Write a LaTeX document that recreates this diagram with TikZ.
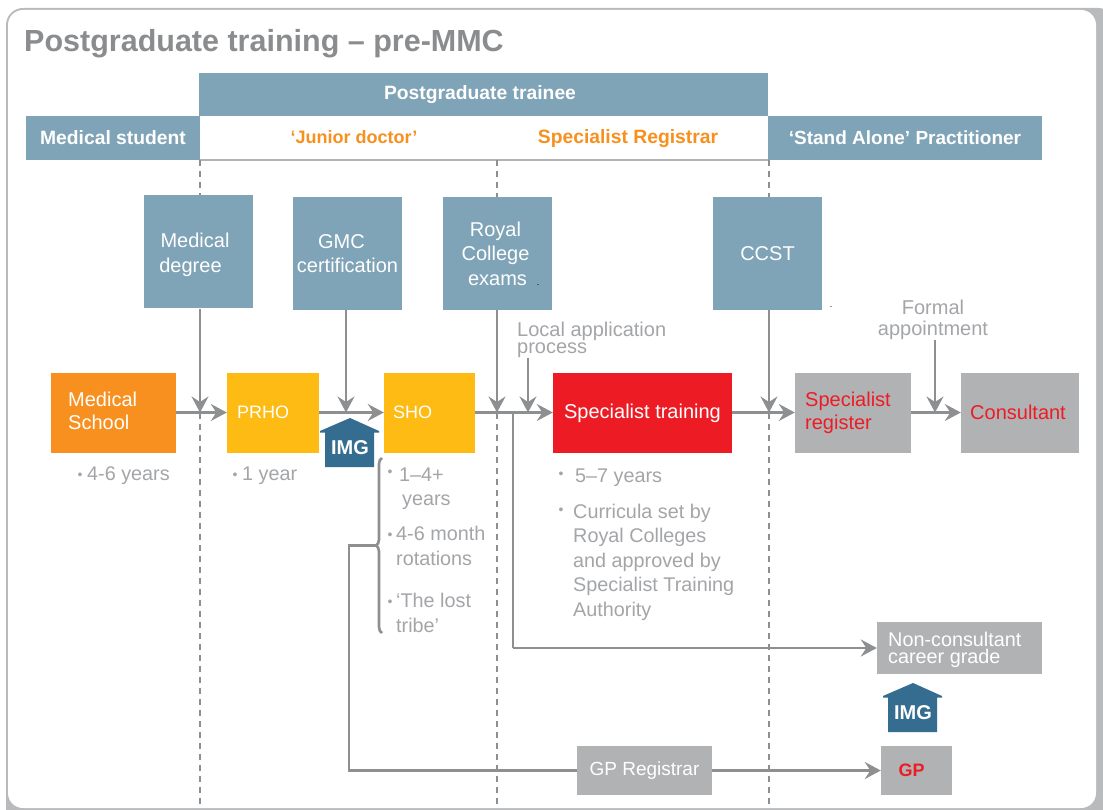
\documentclass[tikz,border=0pt]{standalone}
\usepackage{fontspec}
\setmainfont{Liberation Sans}
\usetikzlibrary{arrows.meta,positioning,decorations.pathreplacing}
\definecolor{steel}{HTML}{7FA3B7}
\definecolor{house}{HTML}{356D91}
\definecolor{linegrey}{HTML}{8E8F91}
\definecolor{notegrey}{HTML}{A3A5A8}
\definecolor{boxgrey}{HTML}{B1B2B4}
\definecolor{titlegrey}{HTML}{8A8C8E}
\definecolor{amber}{HTML}{FDBB13}
\definecolor{tangerine}{HTML}{F7901E}
\definecolor{alarm}{HTML}{ED1C24}
\tikzset{
    band/.style={fill=steel,text=white,font=\fontsize{19.3}{22}\selectfont\bfseries,inner sep=0pt},
    milestone/.style={fill=steel,text=white,inner sep=0pt,align=center,minimum width=109pt,minimum height=113pt,font=\fontsize{20}{24.5}\selectfont},
    stage/.style={inner sep=0pt,minimum height=80pt},
    label/.style={text=white,inner sep=0pt,align=left,anchor=west,font=\fontsize{20}{22.5}\selectfont},
    redlabel/.style={label,text=alarm},
    note/.style={text=notegrey,inner sep=0pt,align=left,anchor=west,font=\fontsize{19.8}{24.5}\selectfont},
    tick/.style={text=notegrey,inner sep=0pt,yshift=-3pt,font=\fontsize{14}{14}\selectfont},
    flow/.style={draw=linegrey,line width=2.2pt,-{Stealth[length=16pt,width=17pt,inset=5.5pt]}},
    wire/.style={draw=linegrey,line width=2.2pt},
    phase/.style={draw=linegrey,line width=1.8pt,dash pattern=on 6pt off 5pt}
}
\begin{document}
\begin{tikzpicture}[x=1pt,y=-1pt]
    \useasboundingbox (0,0) rectangle (1103,810);
    \fill[boxgrey!90] (6,8) [rounded corners=17pt] rectangle (1115,825);
    \fill[white] (8,10) [rounded corners=15pt] rectangle (1096,808);

    \node [anchor=west,inner sep=0pt,text=titlegrey,font=\fontsize{30.5}{34}\selectfont\bfseries] (title) at (24,44) {Postgraduate training -- pre-MMC};

    \node [band,minimum width=569pt,minimum height=43pt] (trainee) at (483.5,94.5) {\hspace*{-7pt}Postgraduate trainee};
    \node [band,minimum width=174pt,minimum height=44pt] (student) at (113,138) {Medical student};
    \node [band,minimum width=274pt,minimum height=44pt,font=\fontsize{19}{22}\selectfont\bfseries] (alone) at (905,138) {‘Stand Alone’ Practitioner};
    \node [inner sep=0pt,text=tangerine,font=\fontsize{18}{22}\selectfont\bfseries] (junior) at (354,137) {‘Junior doctor’};
    \node [inner sep=0pt,text=tangerine,font=\fontsize{19.3}{22}\selectfont\bfseries] (registrar) at (628,139) {Specialist Registrar};
    \draw [wire,draw=boxgrey] (student.south east) -- (alone.south west);

    \node [milestone] (degree) at (198,252) {\rule{0pt}{20pt}\hspace*{-6pt}Medical\\\hspace*{-15pt}degree};
    \node [milestone] (gmc) at (347.5,253.5) {\hspace*{-12pt}GMC\\certification};
    \node [milestone] (exams) at (497.5,253.5) {\hspace*{-4pt}Royal\\\hspace*{-4pt}College\\exams};
    \node [milestone] (ccst) at (767.5,253.5) {CCST};
    \node [inner sep=0pt,font=\fontsize{9}{9}\selectfont] (examsdot) at (538,285) {.};
    \node [inner sep=0pt,font=\fontsize{9}{9}\selectfont] (ccstdot) at (831,307) {.};

    \node [stage,fill=tangerine,minimum width=125pt] (school) at (113.5,412.5) {};
    \node [stage,fill=amber,minimum width=92pt] (prho) at (273,412.5) {};
    \node [stage,fill=amber,minimum width=91pt] (sho) at (429.5,412.5) {};
    \node [stage,fill=alarm,minimum width=179pt] (training) at (642.5,412.5) {};
    \node [stage,fill=boxgrey,minimum width=116pt] (register) at (853,412.5) {};
    \node [stage,fill=boxgrey,minimum width=118pt] (consultant) at (1020,412.5) {};
    \node [label] (schooltext) at (68,411) {Medical\\School};
    \node [label,font=\fontsize{18}{22.5}\selectfont] (prhotext) at (237,412.5) {PRHO};
    \node [label,font=\fontsize{18}{22.5}\selectfont] (shotext) at (393,412.5) {SHO};
    \node [label,anchor=center] (trainingtext) at (642.5,413) {Specialist training};
    \node [redlabel] (registertext) at (805,413) {Specialist\\register};
    \node [redlabel,anchor=center] (consultanttext) at (1018,412.5) {Consultant};

    % phase boundaries
    \coordinate (phaseone) at (200,808);
    \coordinate (phasetwo) at (497,808);
    \coordinate (phasethree) at (769,808);
    \foreach \phase/\mile in {phaseone/degree,phasetwo/exams,phasethree/ccst} {
        \draw [phase] (\phase |- student.south) -- (\phase |- \mile.north);
        \draw [phase] (\phase |- prho.west) -- (\phase);
        \draw [flow] (\phase |- \mile.south) -- (\phase |- prho.west);
    }
    \draw [flow] (gmc.south -| 346,0) -- (346,412.5);

    \draw [flow] (school) -- (prho);
    \draw [flow] (prho) -- (sho);
    \draw [flow] (sho) -- (training);
    \draw [flow] (training) -- (register);
    \draw [flow] (register) -- (consultant);

    \node [note,font=\fontsize{20}{17}\selectfont] (local) at (517,339.5) {Local application\\process};
    \coordinate (localend) at (528,412.5);
    \draw [flow] (localend |- local.south) -- (localend);
    \node [note,align=center,anchor=center,font=\fontsize{20}{20.5}\selectfont] (formal) at (933,320) {Formal\\appointment};
    \coordinate (formalend) at (935,412.5);
    \draw [flow] (formalend |- formal.south) -- (formalend);

    % little houses
    \foreach \hx/\hy/\hname in {350/418/imgone,913/683/imgtwo} {
        \fill [house] (\hx,\hy) -- ++(29,13) -- ++(0,1.5) -- ++(-5,0) -- ++(0,34.5) -- ++(-49,0) -- ++(0,-34.5) -- ++(-5,0) -- ++(0,-1.5) -- cycle;
        \node [inner sep=0pt,text=white,font=\fontsize{20}{20}\selectfont\bfseries] (\hname) at (\hx,\hy+29.5) {IMG};
    }

    \node [tick] (schooltick) at (80,473) {•};
    \node [note] (schoolnote) at (87,476) {4-6 years};
    \node [tick] (prhotick) at (235,473) {•};
    \node [note] (prhonote) at (242,476) {1 year};

    \node [tick] (shotickone) at (390,470) {•};
    \node [note] (shonoteone) at (399,488.5) {1--4+\\\hspace*{3pt}years};
    \node [tick] (shotickthree) at (390,533) {•};
    \node [note] (shonotetwo) at (396,546) {4-6 month\\rotations};
    \node [tick] (shotickfive) at (390,600) {•};
    \node [note] (shonotethree) at (396,613) {‘The lost\\tribe’};

    \node [tick] (trainingtick) at (561,472) {•};
    \node [note] (trainingnote) at (575,478) {5--7 years};
    \node [tick] (curriculatick) at (561,508) {•};
    \node [note] (curricula) at (573,562) {Curricula set by\\Royal Colleges\\and approved by\\Specialist Training\\Authority};

    \node [fill=boxgrey,minimum width=165pt,minimum height=52pt,inner sep=0pt] (career) at (959.5,648) {};
    \node [label,font=\fontsize{19.8}{17}\selectfont] (careertext) at (888,649.5) {Non-consultant\\career grade};
    \node [fill=boxgrey,text=white,minimum width=135pt,minimum height=49pt,inner sep=0pt,font=\fontsize{19}{22}\selectfont] (gpreg) at (644.5,770.5) {GP Registrar};
    \node [fill=boxgrey,text=alarm,minimum width=71pt,minimum height=49pt,inner sep=0pt,font=\fontsize{18}{22}\selectfont\bfseries] (gp) at (916.5,770.5) {\hspace*{-10pt}GP};

    \coordinate (splitcareer) at (513,412.5);
    \draw [wire] (splitcareer) -- (splitcareer |- career.west);
    \draw [flow] (splitcareer |- career.west) -- (career.west);

    % brace round the SHO notes
    \coordinate (bracetop) at (382,458);
    \coordinate (bracelow) at (382,633);
    \coordinate (bracetip) at (376,545.5);
    \draw [wire,line width=2.6pt,decorate,decoration={brace,amplitude=6pt}] (bracelow) -- (bracetop);
    \coordinate (gpcorner) at (349,545.5);
    \draw [wire] (bracetip) -- (gpcorner) -- (gpcorner |- gpreg.west) -- (gpreg.west);
    \draw [flow] (gpreg) -- (gp);
\end{tikzpicture}
\end{document}
